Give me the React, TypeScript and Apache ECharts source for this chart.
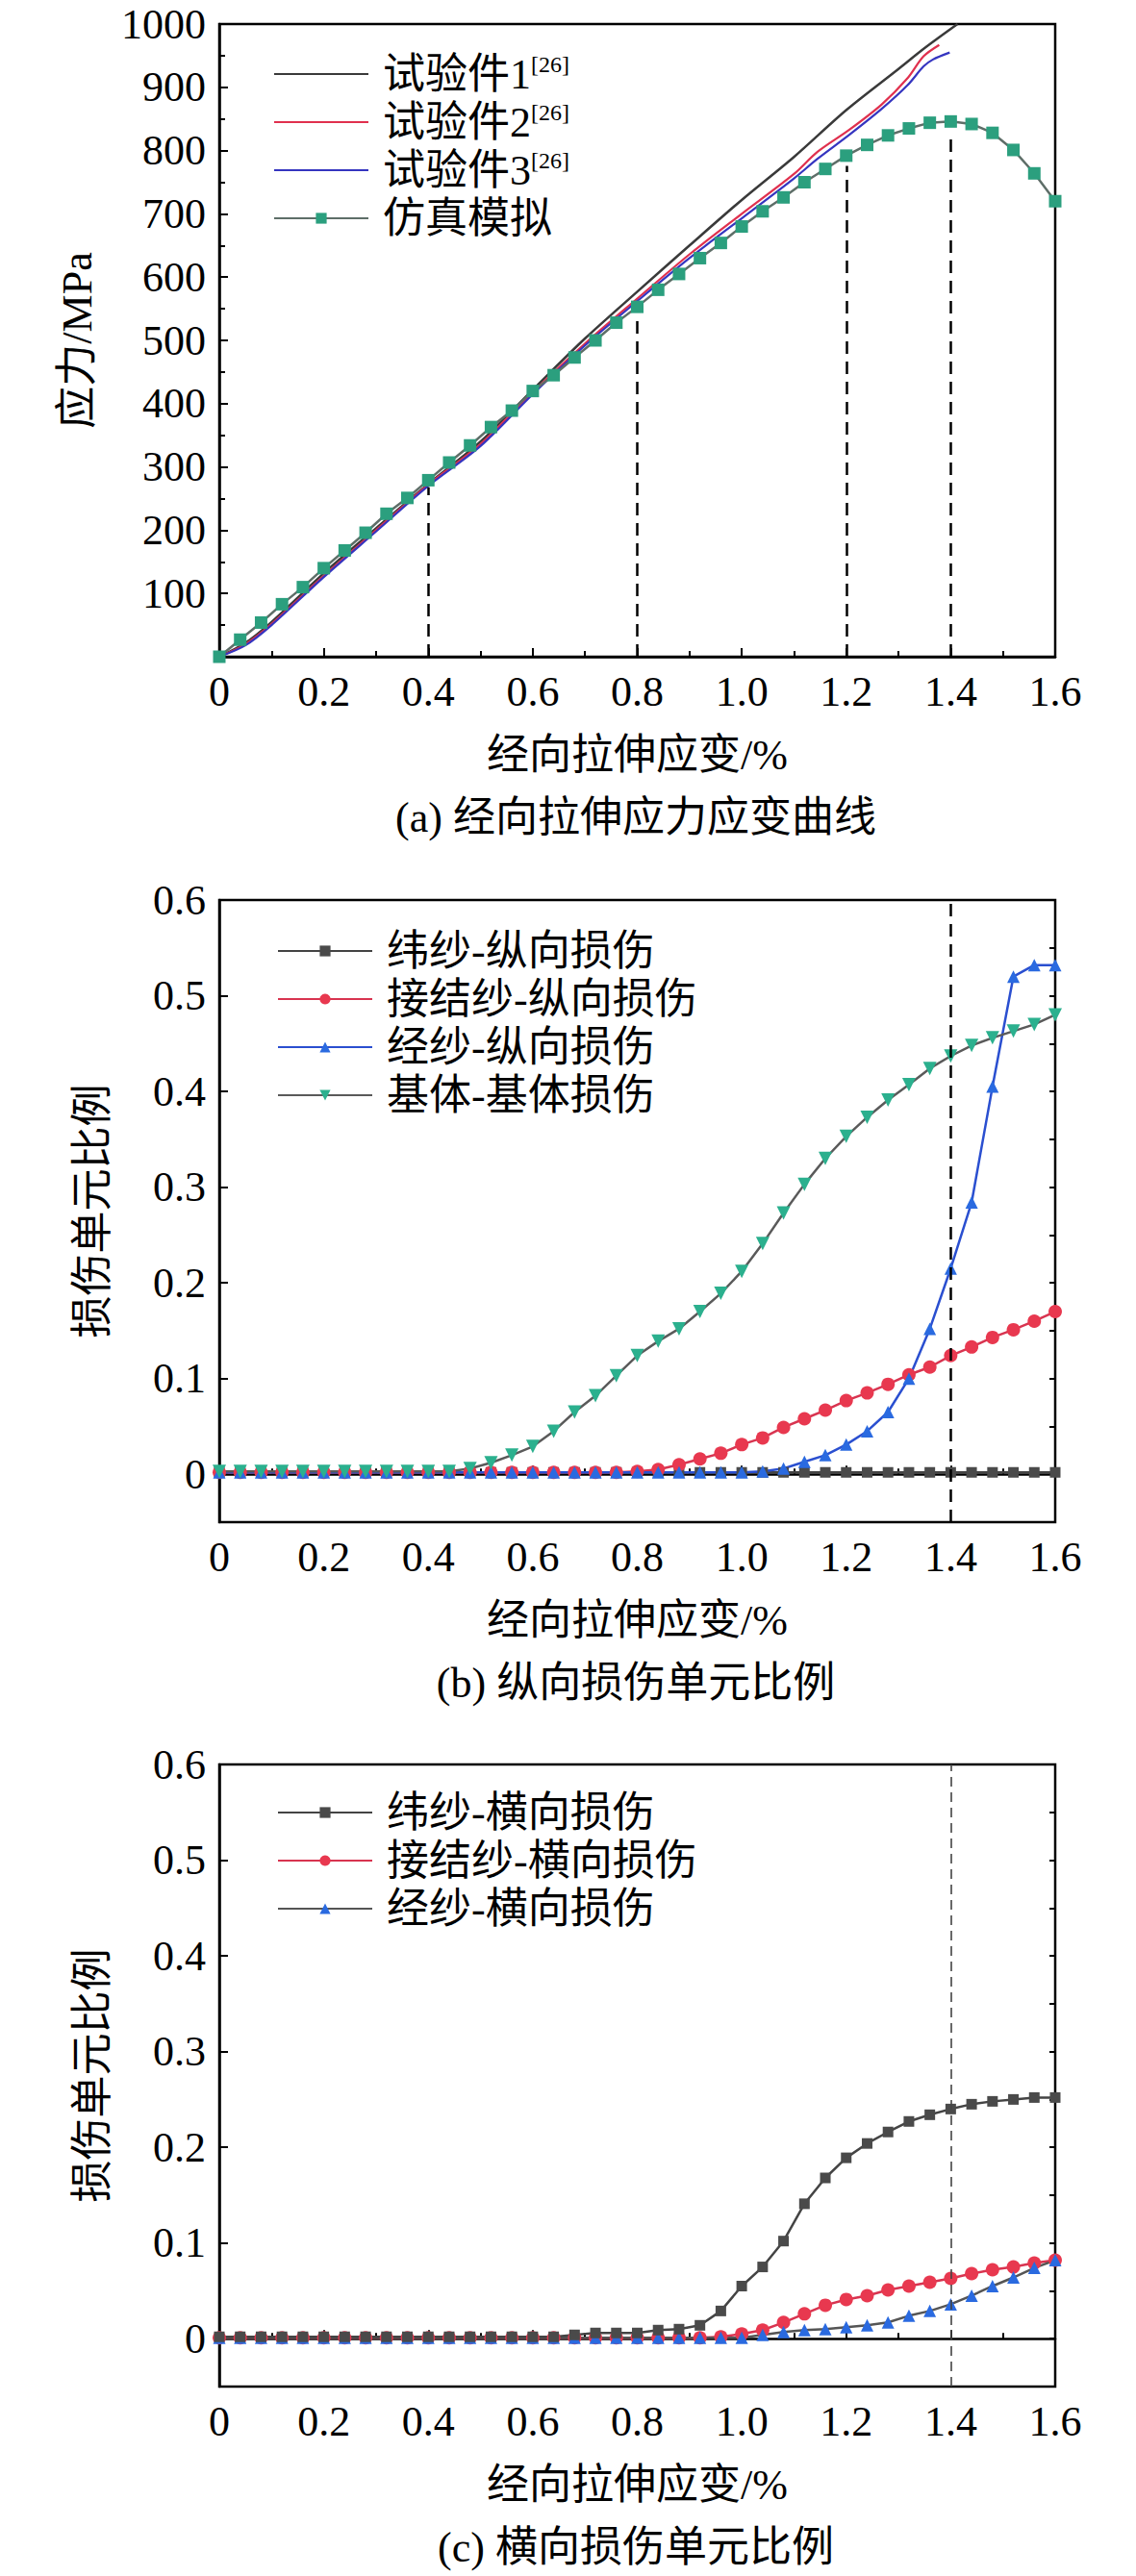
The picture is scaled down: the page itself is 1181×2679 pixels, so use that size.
import React, { useEffect, useRef } from 'react';
import * as echarts from 'echarts';

const FONT = '"Liberation Serif", "Noto Sans CJK SC", serif';

// strain steps of the simulation (%)
const strainSteps = [
  0, 0.04, 0.08, 0.12, 0.16, 0.2, 0.24, 0.28, 0.32, 0.36, 0.4, 0.44, 0.48, 0.52,
  0.56, 0.6, 0.64, 0.68, 0.72, 0.76, 0.8, 0.84, 0.88, 0.92, 0.96, 1.0, 1.04, 1.08,
  1.12, 1.16, 1.2, 1.24, 1.28, 1.32, 1.36, 1.4, 1.44, 1.48, 1.52, 1.56, 1.6,
];

// (a) stress-strain, MPa
const simStress = [
  0, 27, 54, 83, 110, 140, 168, 196, 226, 251, 279, 307, 334, 363, 389, 420, 445,
  473, 500, 528, 553, 580, 605, 630, 654, 680, 704, 726, 750, 771, 792, 809, 824,
  835, 844, 846, 842, 828, 801, 764, 720,
];
const test1Strain = [0, 0.05, 0.1, 0.2, 0.3, 0.4, 0.5, 0.6, 0.7, 0.8, 0.9, 1.0, 1.1, 1.2, 1.3, 1.35, 1.413];
const test1Stress = [0, 22, 55, 132, 203, 273, 340, 422, 503, 577, 650, 722, 790, 864, 929, 962, 1000];
const test2Strain = [0, 0.05, 0.1, 0.2, 0.3, 0.4, 0.5, 0.6, 0.7, 0.8, 0.9, 1.0, 1.1, 1.145, 1.206, 1.268, 1.317, 1.348, 1.378];
const test2Stress = [0, 20, 52, 128, 200, 272, 336, 418, 495, 566, 636, 700, 763, 798, 833, 873, 914, 949, 967];
const test3Strain = [0, 0.05, 0.1, 0.2, 0.3, 0.4, 0.5, 0.6, 0.7, 0.8, 0.9, 1.0, 1.1, 1.145, 1.206, 1.268, 1.317, 1.348, 1.366, 1.398];
const test3Stress = [0, 18, 50, 126, 198, 270, 333, 415, 492, 562, 630, 693, 756, 787, 825, 866, 903, 933, 944, 955];
const guideStrain = [0.4, 0.8, 1.2, 1.4];
const guideTop = [268, 535, 776, 822];

// (b) longitudinal damage ratio
const weftLong = [
  0.002, 0.002, 0.002, 0.002, 0.002, 0.002, 0.002, 0.002, 0.002, 0.002, 0.002,
  0.002, 0.002, 0.002, 0.002, 0.002, 0.002, 0.002, 0.002, 0.002, 0.002, 0.002,
  0.002, 0.002, 0.002, 0.002, 0.002, 0.002, 0.002, 0.002, 0.002, 0.002, 0.002,
  0.002, 0.002, 0.002, 0.002, 0.002, 0.002, 0.002, 0.002,
];
const bindLong = [
  0.002, 0.002, 0.002, 0.002, 0.002, 0.002, 0.002, 0.002, 0.002, 0.002, 0.002,
  0.002, 0.002, 0.002, 0.002, 0.002, 0.002, 0.002, 0.002, 0.002, 0.003, 0.005,
  0.01, 0.016, 0.022, 0.031, 0.038, 0.049, 0.058, 0.067, 0.077, 0.085, 0.094,
  0.104, 0.112, 0.124, 0.133, 0.143, 0.151, 0.16, 0.17,
];
const warpLong = [
  0.002, 0.002, 0.002, 0.002, 0.002, 0.002, 0.002, 0.002, 0.002, 0.002, 0.002,
  0.002, 0.002, 0.002, 0.002, 0.002, 0.002, 0.002, 0.002, 0.002, 0.002, 0.002,
  0.002, 0.002, 0.002, 0.002, 0.003, 0.006, 0.013, 0.02, 0.031, 0.045, 0.065,
  0.1, 0.152, 0.215, 0.284, 0.405, 0.52, 0.532, 0.532,
];
const matrixLong = [
  0.003, 0.003, 0.003, 0.003, 0.003, 0.003, 0.003, 0.003, 0.003, 0.003, 0.003,
  0.003, 0.006, 0.012, 0.02, 0.029, 0.045, 0.065, 0.082, 0.103, 0.124, 0.139,
  0.152, 0.17, 0.189, 0.212, 0.241, 0.273, 0.303, 0.33, 0.353, 0.373, 0.391,
  0.407, 0.424, 0.437, 0.448, 0.456, 0.463, 0.47, 0.48,
];

// (c) transverse damage ratio
const weftTrans = [
  0.002, 0.002, 0.002, 0.002, 0.002, 0.002, 0.002, 0.002, 0.002, 0.002, 0.002,
  0.002, 0.002, 0.002, 0.002, 0.002, 0.002, 0.004, 0.006, 0.006, 0.006, 0.009,
  0.01, 0.014, 0.029, 0.055, 0.075, 0.102, 0.141, 0.168, 0.189, 0.204, 0.216,
  0.227, 0.234, 0.24, 0.245, 0.248, 0.25, 0.252, 0.252,
];
const bindTrans = [
  0.001, 0.001, 0.001, 0.001, 0.001, 0.001, 0.001, 0.001, 0.001, 0.001, 0.001,
  0.001, 0.001, 0.001, 0.001, 0.001, 0.001, 0.001, 0.001, 0.001, 0.001, 0.001,
  0.001, 0.001, 0.002, 0.005, 0.009, 0.017, 0.026, 0.035, 0.041, 0.045, 0.051,
  0.055, 0.059, 0.063, 0.068, 0.072, 0.075, 0.079, 0.082,
];
const warpTrans = [
  0.001, 0.001, 0.001, 0.001, 0.001, 0.001, 0.001, 0.001, 0.001, 0.001, 0.001,
  0.001, 0.001, 0.001, 0.001, 0.001, 0.001, 0.001, 0.001, 0.001, 0.001, 0.001,
  0.001, 0.001, 0.001, 0.001, 0.004, 0.007, 0.009, 0.01, 0.012, 0.014, 0.017,
  0.024, 0.029, 0.036, 0.045, 0.055, 0.064, 0.074, 0.082,
];

const xTitle = '经向拉伸应变/%';
const captions = ['(a) 经向拉伸应力应变曲线', '(b) 纵向损伤单元比例', '(c) 横向损伤单元比例'];
const captionY = [850, 1750, 2649];

const pairs = (xs: number[], ys: number[]) => xs.map((x, i) => [x, ys[i]]);

const tick = { show: true, inside: true, length: 9, lineStyle: { color: '#000', width: 2 } };
const minor = { show: true, splitNumber: 2, length: 6, lineStyle: { color: '#000', width: 2 } };
const label = { fontFamily: FONT, fontSize: 44, lineHeight: 32, color: '#000' };

const makeX = (gridIndex: number) => ({
  type: 'value',
  gridIndex,
  min: 0,
  max: 1.6,
  interval: 0.2,
  name: xTitle,
  nameLocation: 'middle',
  nameGap: 80,
  nameTextStyle: { fontFamily: FONT, fontSize: 44, color: '#000' },
  axisLine: { lineStyle: { color: '#000', width: 2.5 } },
  axisTick: tick,
  minorTick: minor,
  splitLine: { show: false },
  axisLabel: {
    ...label,
    margin: 20,
    formatter: (v: number) => (v === 0 ? '0' : v.toFixed(1)),
  },
});

const ratioY = (gridIndex: number) => ({
  type: 'value',
  gridIndex,
  min: -0.05,
  max: 0.6,
  splitNumber: 6,
  name: '损伤单元比例',
  nameLocation: 'middle',
  nameGap: 110,
  nameTextStyle: { fontFamily: FONT, fontSize: 44, color: '#000' },
  axisLine: { show: true, lineStyle: { color: '#000', width: 2.5 } },
  axisTick: tick,
  splitLine: { show: false },
  axisLabel: {
    ...label,
    margin: 14,
    showMinLabel: false,
    formatter: (v: number) => (v < 0 ? '' : v === 0 ? '0' : v.toFixed(1)),
  },
});

const ratioMinorY = (gridIndex: number) => ({
  type: 'value',
  gridIndex,
  min: -0.05,
  max: 0.6,
  interval: 0.05,
  axisLine: { show: false },
  axisTick: { show: true, inside: true, length: 6, lineStyle: { color: '#000', width: 2 } },
  axisLabel: { show: false },
  splitLine: { show: false },
});

const legendBase = {
  orient: 'vertical',
  itemWidth: 98,
  itemHeight: 14,
  itemGap: 6,
  textStyle: { fontFamily: FONT, fontSize: 44, lineHeight: 44, color: '#000', padding: [0, 0, 0, 10] },
};

const dmgSeries = (
  name: string,
  values: number[],
  xi: number,
  yi: number,
  symbol: string,
  lineColor: string,
  markColor: string,
  size: number,
  rotate = 0
) => ({
  name,
  type: 'line',
  xAxisIndex: xi,
  yAxisIndex: yi,
  data: pairs(strainSteps, values),
  symbol,
  symbolSize: size,
  symbolRotate: rotate,
  showAllSymbol: true,
  lineStyle: { color: lineColor, width: 2.5 },
  itemStyle: { color: markColor },
});

export default function App() {
  const ref = useRef<HTMLDivElement>(null);

  useEffect(() => {
    if (!ref.current) return;
    const chart = echarts.init(ref.current, undefined, { renderer: 'svg' });

    chart.setOption({
      animation: false,
      backgroundColor: '#fff',
      grid: [
        { left: 228, right: 84, top: 25, height: 658, show: true, borderColor: '#000', borderWidth: 2.5 },
        { left: 228, right: 84, top: 936, height: 647, show: true, borderColor: '#000', borderWidth: 2.5 },
        { left: 228, right: 84, top: 1835, height: 647, show: true, borderColor: '#000', borderWidth: 2.5 },
      ],
      xAxis: [makeX(0), makeX(1), makeX(2)],
      yAxis: [
        {
          type: 'value',
          gridIndex: 0,
          min: 0,
          max: 1000,
          interval: 100,
          name: '应力/MPa',
          nameLocation: 'middle',
          nameGap: 126,
          nameTextStyle: { fontFamily: FONT, fontSize: 44, color: '#000' },
          axisLine: { show: true, lineStyle: { color: '#000', width: 2.5 } },
          axisTick: tick,
          minorTick: minor,
          splitLine: { show: false },
          axisLabel: {
            ...label,
            margin: 14,
            formatter: (v: number) => (v === 0 ? '' : String(v)),
          },
        },
        ratioY(1),
        ratioMinorY(1),
        ratioY(2),
        ratioMinorY(2),
      ],
      legend: [
        {
          ...legendBase,
          left: 279,
          top: 50,
          data: [
            { name: '试验件1', itemStyle: { opacity: 0 } },
            { name: '试验件2', itemStyle: { opacity: 0 } },
            { name: '试验件3', itemStyle: { opacity: 0 } },
            '仿真模拟',
          ],
          formatter: (n: string) => (n === '仿真模拟' ? n : n + '{sup|[26]}'),
          textStyle: {
            ...legendBase.textStyle,
            rich: { sup: { fontFamily: FONT, fontSize: 24, verticalAlign: 'top', lineHeight: 44, padding: [0, 0, 14, 0] } },
          },
        },
        {
          ...legendBase,
          left: 283,
          top: 962,
          data: ['纬纱-纵向损伤', '接结纱-纵向损伤', '经纱-纵向损伤', '基体-基体损伤'],
        },
        {
          ...legendBase,
          left: 283,
          top: 1858,
          data: ['纬纱-横向损伤', '接结纱-横向损伤', '经纱-横向损伤'],
        },
      ],
      graphic: captions.map((c, i) => ({
        type: 'text',
        x: 661,
        y: captionY[i],
        style: { text: c, font: `44px ${FONT}`, fill: '#000', align: 'center', verticalAlign: 'middle' },
      })),
      series: [
        {
          name: '试验件1',
          type: 'line',
          data: pairs(test1Strain, test1Stress),
          smooth: 0.3,
          symbol: 'none',
          lineStyle: { color: '#3a3a3a', width: 2.5 },
          itemStyle: { color: '#3a3a3a' },
        },
        {
          name: '试验件2',
          type: 'line',
          data: pairs(test2Strain, test2Stress),
          smooth: 0.3,
          symbol: 'none',
          lineStyle: { color: '#e0304e', width: 2.2 },
          itemStyle: { color: '#e0304e' },
        },
        {
          name: '试验件3',
          type: 'line',
          data: pairs(test3Strain, test3Stress),
          smooth: 0.3,
          symbol: 'none',
          lineStyle: { color: '#3535c0', width: 2.2 },
          itemStyle: { color: '#3535c0' },
        },
        {
          name: '仿真模拟',
          type: 'line',
          data: pairs(strainSteps, simStress),
          symbol: 'rect',
          symbolSize: 13,
          showAllSymbol: true,
          lineStyle: { color: '#5e6e68', width: 2.5 },
          itemStyle: { color: '#2b9f7e' },
          markLine: {
            silent: true,
            symbol: 'none',
            label: { show: false },
            lineStyle: { color: '#000', width: 2.5, type: [13, 8] },
            data: guideStrain.map((s, i) => [{ coord: [s, 0] }, { coord: [s, guideTop[i]] }]),
          },
        },
        dmgSeries('纬纱-纵向损伤', weftLong, 1, 1, 'rect', '#444', '#4a4a4a', 11),
        dmgSeries('接结纱-纵向损伤', bindLong, 1, 1, 'circle', '#d83450', '#e8384f', 14),
        dmgSeries('经纱-纵向损伤', warpLong, 1, 1, 'triangle', '#2a4fd0', '#2a6ae0', 13),
        {
          ...dmgSeries('基体-基体损伤', matrixLong, 1, 1, 'triangle', '#5a5a5a', '#2bb08e', 14, 180),
          markLine: {
            silent: true,
            symbol: 'none',
            label: { show: false },
            lineStyle: { color: '#000', width: 2.5, type: [13, 8] },
            data: [{ xAxis: 1.4 }],
          },
        },
        dmgSeries('接结纱-横向损伤', bindTrans, 2, 3, 'circle', '#d83450', '#e8384f', 14),
        dmgSeries('经纱-横向损伤', warpTrans, 2, 3, 'triangle', '#555', '#2a6ae0', 13),
        {
          ...dmgSeries('纬纱-横向损伤', weftTrans, 2, 3, 'rect', '#444', '#4a4a4a', 11),
          markLine: {
            silent: true,
            symbol: 'none',
            label: { show: false },
            lineStyle: { color: '#444', width: 1.6, type: [10, 6] },
            data: [{ xAxis: 1.4 }],
          },
        },
      ],
    });

    return () => chart.dispose();
  }, []);

  return (
    <div style={{ position: 'absolute', left: 0, top: 0, width: 1181, height: 2679, background: '#fff' }}>
      <div ref={ref} style={{ width: '100%', height: '100%' }} />
    </div>
  );
}
